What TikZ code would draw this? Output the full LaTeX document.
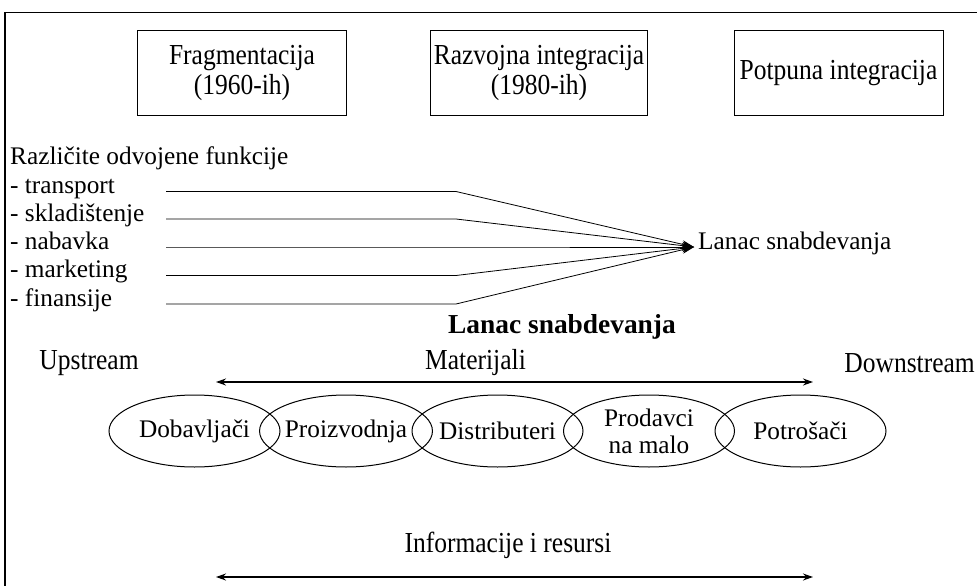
\documentclass[tikz,border=0pt]{standalone}
\usepackage{fontspec}
\setmainfont{Liberation Serif}
\newfontfamily\tallfont{Liberation Serif}[FakeStretch=0.88]
\usetikzlibrary{shapes,arrows.meta,positioning}

\begin{document}
\begin{tikzpicture}[x=1pt, y=-1pt,
    stage/.style={rectangle, draw, line width=1pt, minimum width=209pt, minimum height=84pt, align=center, font=\tallfont\fontsize{29}{30}\selectfont},
    func/.style={anchor=west, inner sep=0pt, text height=0.7em, text depth=0.25em, font=\fontsize{25.3}{28}\selectfont},
    link/.style={ellipse, draw, line width=1pt, minimum width=171pt, minimum height=72pt, inner sep=0pt, align=center, font=\fontsize{25.3}{27}\selectfont},
    txt/.style={inner sep=0pt, font=\tallfont\fontsize{29}{30}\selectfont},
    arrow/.style={line width=0.8pt, -{Stealth[length=12pt,width=8pt]}},
    flow/.style={line width=1.4pt, {Stealth[length=10pt,width=7pt]}-{Stealth[length=10pt,width=7pt]}}
]
\clip (0,0) rectangle (977,586);
\useasboundingbox (0,0) rectangle (977,586);

% frame (runs off to the right and bottom)
\draw[line width=1.2pt] (5,600) -- (5,12.5) -- (990,12.5);

% STAGES OF INTEGRATION
\node[stage] (frag) at (242,73) {Fragmentacija\\(1960-ih)};
\node[stage] (razv) at (539,73) {Razvojna integracija\\(1980-ih)};
\node[stage] (potp) at (838.5,73) {Potpuna integracija};

% Separate functions
\node[func] (head) at (10,162.5) {Različite odvojene funkcije};
\node[func] (f1) at (10,191.5) {- transport};
\node[func] (f2) at (10,219) {- skladištenje};
\node[func] (f3) at (10,247) {- nabavka};
\node[func] (f4) at (10,275.5) {- marketing};
\node[func] (f5) at (10,304) {- finansije};

% Target
\node[func, inner xsep=4pt] (lanac) at (694,247) {Lanac snabdevanja};

% Lines from functions to the chain
\foreach \i/\y in {1/191.5, 2/219, 3/247, 4/275.5, 5/304} {
    \coordinate (s\i) at (166,\y);
    \coordinate (b\i) at (456,\y);
    \draw[arrow] (s\i) -- (b\i) -- (lanac.west);
}

% SUPPLY CHAIN
\node[inner sep=0pt, font=\fontsize{27.4}{30}\selectfont\bfseries] (title) at (562,327) {Lanac snabdevanja};

\node[txt] (up) at (89,363) {Upstream};
\node[txt] (mat) at (475.5,363) {Materijali};
\node[txt, anchor=east] (down) at (975,363) {Downstream};

\coordinate (mL) at (216,382);
\coordinate (mR) at (813,382);
\draw[flow] (mL) -- (mR);

% Members of the chain
\node[link] (dob) at (194.5,431) {Dobavljači};
\node[link] (pro) at (346,431) {Proizvodnja};
\node[link] (dis) at (497.5,431) {Distributeri};
\node[link] (pmalo) at (649,431) {Prodavci\\na malo};
\node[link] (pot) at (800.5,431) {Potrošači};

% Information flow
\node[txt] (info) at (508,545) {Informacije i resursi};

\coordinate (iL) at (216,577);
\coordinate (iR) at (813,577);
\draw[flow] (iL) -- (iR);

\end{tikzpicture}
\end{document}
